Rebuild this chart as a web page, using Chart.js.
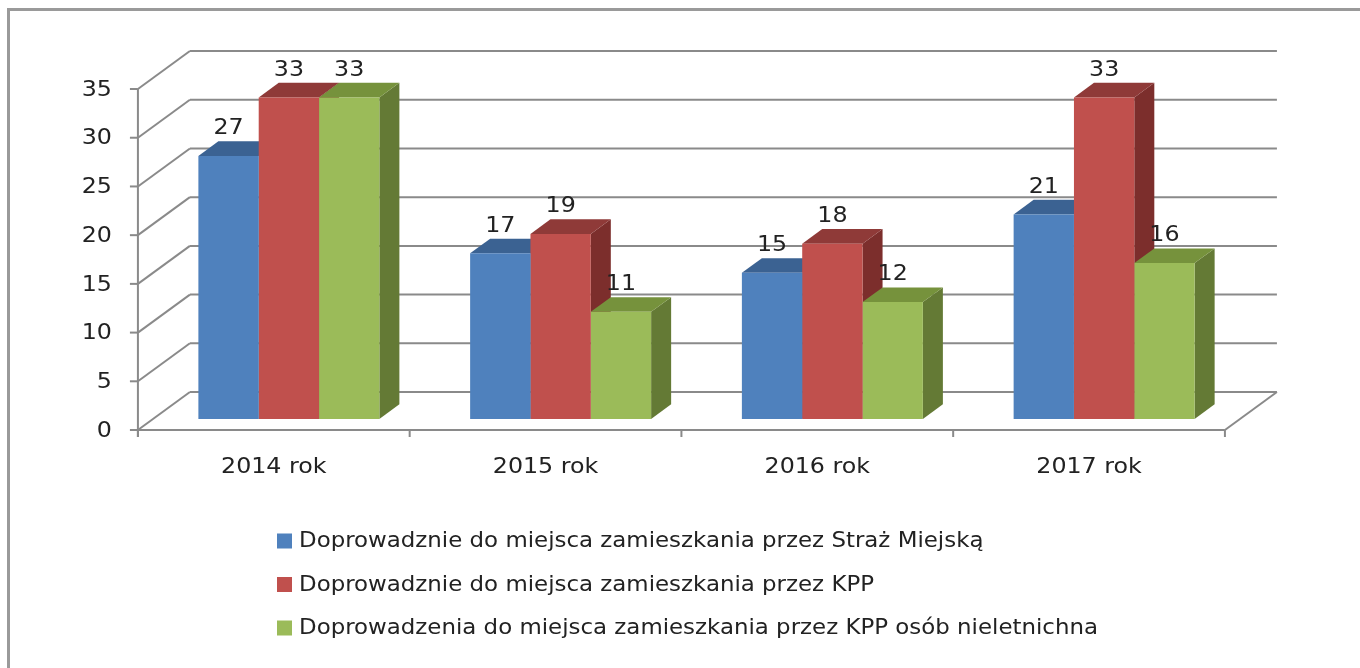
<!DOCTYPE html>
<html>
<head>
<meta charset="utf-8">
<script src="https://cdn.jsdelivr.net/npm/chart.js@4.4.1/dist/chart.umd.min.js"></script>
<style>
html, body { margin: 0; padding: 0; background: #fff; }
</style>
</head>
<body>
<canvas id="chart" width="1360" height="668"></canvas>
<script>
const categories = ['2014 rok', '2015 rok', '2016 rok', '2017 rok'];
const seriesNames = [
	'Doprowadznie do miejsca zamieszkania przez Straż Miejską',
	'Doprowadznie do miejsca zamieszkania przez KPP',
	'Doprowadzenia do miejsca zamieszkania przez KPP osób nieletnichna'
];
const strazMiejska = [27, 17, 15, 21];
const kpp = [33, 19, 18, 33];
const kppNieletni = [33, 11, 12, 16];
const yTicks = [0, 5, 10, 15, 20, 25, 30, 35];

// front, top, side colours per series
const palette = [
	{ front: '#4F81BD', top: '#3B6292', side: '#385D8A' },
	{ front: '#C0504D', top: '#8F3A38', side: '#7C2E2C' },
	{ front: '#9BBB59', top: '#76923C', side: '#647A35' }
];

const FONT = '"DejaVu Sans", sans-serif';
const GRID = '#8a8a8a';
const TEXT = '#222';
const DEPTH = { x: 52, y: -38 };   // full floor depth
const BAR_FRONT = 0.29;            // where bar fronts sit inside the depth
const BAR_DEPTH = 0.385;           // how deep the bars are

function line(ctx, x1, y1, x2, y2) {
	ctx.beginPath();
	ctx.moveTo(x1, y1);
	ctx.lineTo(x2, y2);
	ctx.stroke();
}

function poly(ctx, pts, color) {
	ctx.beginPath();
	ctx.moveTo(pts[0][0], pts[0][1]);
	for (let i = 1; i < pts.length; i++) ctx.lineTo(pts[i][0], pts[i][1]);
	ctx.closePath();
	ctx.fillStyle = color;
	ctx.fill();
}

// the original text is a little wider than DejaVu, so stretch it sideways
function text(ctx, str, x, y, sx) {
	ctx.save();
	ctx.translate(x, y);
	ctx.scale(sx, 1);
	ctx.fillText(str, 0, 0);
	ctx.restore();
}

const threeD = {
	id: 'threeD',
	beforeDraw(chart) {
		const ctx = chart.ctx;
		ctx.save();
		ctx.fillStyle = '#fff';
		ctx.fillRect(0, 0, chart.width, chart.height);
		ctx.strokeStyle = '#9a9a9a';
		ctx.lineWidth = 3;
		line(ctx, 8, 9.5, chart.width, 9.5);
		line(ctx, 8.5, 8, 8.5, chart.height);
		ctx.restore();
	},
	beforeDatasetsDraw(chart) {
		const ctx = chart.ctx;
		const yS = chart.scales.y, xS = chart.scales.x, ca = chart.chartArea;
		const fx = -BAR_FRONT * DEPTH.x, fy = -BAR_FRONT * DEPTH.y;
		const bx = fx + DEPTH.x, by = fy + DEPTH.y;
		const L = ca.left, R = ca.right;
		const y0 = yS.getPixelForValue(0);
		ctx.save();
		ctx.strokeStyle = GRID;
		ctx.lineWidth = 2;
		yTicks.forEach(v => {
			const y = yS.getPixelForValue(v);
			line(ctx, L + fx, y + fy, L + bx, y + by);
			line(ctx, L + bx, y + by, R + bx, y + by);
			line(ctx, L + fx - 8, y + fy, L + fx, y + fy);
		});
		line(ctx, L + fx, y0 + fy, R + fx, y0 + fy);
		line(ctx, R + fx, y0 + fy, R + bx, y0 + by);
		line(ctx, L + fx, yS.getPixelForValue(yTicks[yTicks.length - 1]) + fy, L + fx, y0 + fy + 7);
		const step = xS.getPixelForValue(1) - xS.getPixelForValue(0);
		for (let j = 0; j <= categories.length; j++) {
			const x = xS.getPixelForValue(0) - step / 2 + j * step + fx;
			line(ctx, x, y0 + fy, x, y0 + fy + 7);
		}

		// bar sides and tops, drawn left to right
		const dx = BAR_DEPTH * DEPTH.x, dy = BAR_DEPTH * DEPTH.y;
		for (let i = 0; i < categories.length; i++) {
			chart.data.datasets.forEach((ds, d) => {
				const bar = chart.getDatasetMeta(d).data[i];
				const l = bar.x - bar.width / 2, r = bar.x + bar.width / 2;
				poly(ctx, [[r, bar.y], [r + dx, bar.y + dy], [r + dx, bar.base + dy], [r, bar.base]], palette[d].side);
				poly(ctx, [[l, bar.y], [l + dx, bar.y + dy], [r + dx, bar.y + dy], [r, bar.y]], palette[d].top);
			});
		}
		ctx.restore();
	},
	afterDatasetsDraw(chart) {
		const ctx = chart.ctx;
		const yS = chart.scales.y, xS = chart.scales.x, ca = chart.chartArea;
		const fx = -BAR_FRONT * DEPTH.x, fy = -BAR_FRONT * DEPTH.y;
		const dy = BAR_DEPTH * DEPTH.y;
		const y0 = yS.getPixelForValue(0);
		ctx.save();
		ctx.fillStyle = TEXT;
		ctx.font = '22px ' + FONT;

		// value labels
		ctx.textAlign = 'center';
		ctx.textBaseline = 'alphabetic';
		chart.data.datasets.forEach((ds, d) => {
			chart.getDatasetMeta(d).data.forEach((bar, i) => {
				text(ctx, String(ds.data[i]), bar.x, bar.y + dy - 7, 1.08);
			});
		});

		// category labels
		ctx.textBaseline = 'middle';
		categories.forEach((c, i) => {
			text(ctx, c, xS.getPixelForValue(i) + fx, y0 + fy + 37, 1.08);
		});

		// y tick labels
		ctx.textAlign = 'right';
		yTicks.forEach(v => {
			text(ctx, String(v), ca.left + fx - 26, yS.getPixelForValue(v) + fy + 1, 1.08);
		});

		// legend
		ctx.textAlign = 'left';
		ctx.font = '21px ' + FONT;
		chart.data.datasets.forEach((ds, d) => {
			const cy = 541 + d * 43.5;
			ctx.fillStyle = palette[d].front;
			ctx.fillRect(277, cy - 7.5, 15, 15);
			ctx.fillStyle = TEXT;
			text(ctx, ds.label, 299, cy + 1, 1.09);
		});
		ctx.restore();
	}
};

new Chart(document.getElementById('chart'), {
	type: 'bar',
	data: {
		labels: categories,
		datasets: [
			{ label: seriesNames[0], data: strazMiejska, backgroundColor: palette[0].front },
			{ label: seriesNames[1], data: kpp, backgroundColor: palette[1].front },
			{ label: seriesNames[2], data: kppNieletni, backgroundColor: palette[2].front }
		]
	},
	options: {
		responsive: false,
		animation: false,
		layout: { padding: { left: 153, right: 120, top: 78, bottom: 249 } },
		datasets: { bar: { categoryPercentage: 0.666, barPercentage: 1, borderWidth: 0 } },
		plugins: {
			legend: { display: false },
			tooltip: { enabled: false }
		},
		scales: {
			x: { display: false },
			y: { display: false, min: 0, max: 35 }
		}
	},
	plugins: [threeD]
});
</script>
</body>
</html>
